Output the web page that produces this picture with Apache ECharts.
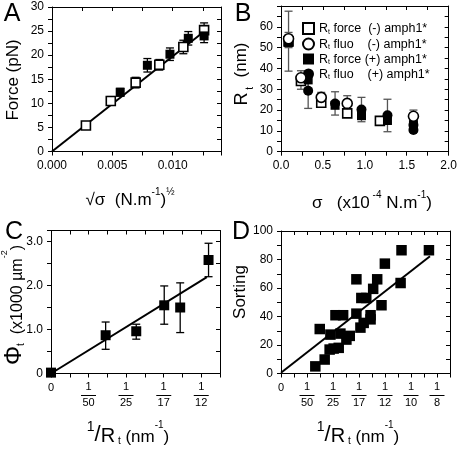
<!DOCTYPE html>
<html><head><meta charset="utf-8">
<script src="https://cdn.jsdelivr.net/npm/echarts@6/dist/echarts.min.js"></script>
<style>html,body{margin:0;padding:0;background:#fff}#c{width:460px;height:450px}</style>
</head><body><div id="c"></div>
<script>
// ---------- Panel A data ----------
const aOpenX = [0.00281, 0.00487, 0.00693, 0.00889, 0.01088, 0.0126];
const aOpenY = [5.4, 10.5, 14.3, 18.0, 21.7, 25.2];
const aOpenErr = [0.7, 0.9, 1.1, 1.1, 1.4, 1.5];
const aFillX = [0.00565, 0.0079, 0.00977, 0.01129, 0.0126];
const aFillY = [12.3, 17.9, 20.2, 23.5, 24.0];
const aFillErr = [0.8, 1.4, 1.3, 1.4, 1.4];
const aFitX = [0, 0.0126];
const aFitY = [0, 24.9];
// ---------- Panel B data ----------
const bForceNegX = [0.09, 0.238, 0.48, 0.79, 1.18];
const bForceNegY = [53, 34, 23.5, 18.4, 14.8];
const bFluoNegX = [0.09, 0.238, 0.48, 0.79, 1.58];
const bFluoNegY = [54.3, 35.5, 26.1, 23.2, 17.0];
const bForcePosX = [0.09, 0.324, 0.645, 0.96, 1.27, 1.58];
const bForcePosY = [52.5, 34.5, 22.3, 17.3, 15.0, 13.0];
const bFluoPosX = [0.324, 0.645, 0.96, 1.27, 1.58, 1.58];
const bFluoPosY = [29.3, 23.2, 20.3, 17.5, 12.8, 10.4];
const bErrX  = [0.09, 0.09, 0.238, 0.324, 0.324, 0.48, 0.645, 0.79, 0.96, 1.27, 1.58];
const bErrLo = [38.7, 50.0, 30.0, 30.5, 20.8, 21.6, 17.6, 20.5, 14.4, 9.6, 9.3];
const bErrHi = [67.5, 57.3, 38.9, 38.3, 36.0, 28.5, 28.8, 26.9, 26.1, 25.2, 20.0];
// ---------- Panel C data ----------
const cX = [0, 0.0291, 0.0454, 0.0603, 0.0688, 0.0839];
const cY = [0.02, 0.87, 0.96, 1.55, 1.50, 2.58];
const cLo = [null, 0.55, 0.78, 1.12, 0.93, 2.20];
const cHi = [null, 1.17, 1.12, 1.99, 2.06, 2.96];
const cFitX = [0, 0.083];
const cFitY = [0, 2.19];
const cTickVals = [0, 0.02, 0.04, 0.06, 0.08];
const cTickDen = ['0', '50', '25', '17', '12'];
// ---------- Panel D data ----------
const dX = [0.0264, 0.0298, 0.0336, 0.0374, 0.0380, 0.0405, 0.0419, 0.0444, 0.0457,
            0.0478, 0.0503, 0.0529, 0.0580, 0.0580, 0.0611, 0.0618, 0.0636, 0.0656,
            0.0689, 0.0689, 0.0709, 0.0740, 0.0773, 0.0799, 0.0920, 0.0927, 0.1138];
const dY = [5.0, 31.2, 9.8, 16.8, 27.3, 17.5, 40.9, 18.0, 28.0,
            40.9, 23.8, 26.4, 66.1, 42.0, 32.2, 53.0, 35.5, 53.0,
            38.0, 40.9, 59.4, 66.1, 47.9, 77.1, 63.5, 86.5, 86.5];
const dFitX = [0, 0.1146];
const dFitY = [0.5, 82.3];
const dTickVals = [0, 0.02, 0.04, 0.06, 0.08, 0.10, 0.12];
const dTickDen = ['0', '50', '25', '17', '12', '10', '8'];

const FONT = '"Liberation Sans", Arial, Helvetica, sans-serif';
const zip = (xs, ys) => xs.map((x, i) => [x, ys[i]]);
const isMul = (v, s) => Math.abs(v / s - Math.round(v / s)) < 1e-6;

function fracFormatter(vals, dens) {
  return function (v) {
    for (let i = 0; i < vals.length; i++) {
      if (Math.abs(v - vals[i]) < 1e-7) {
        if (dens[i] === '0') return '{z|0}';
        return '{n|1}\n{b|—}\n{d|' + dens[i] + '}';
      }
    }
    return '';
  };
}
const fracRich = {
  z: { fontSize: 11, lineHeight: 13, fontFamily: FONT, color: '#000' },
  n: { fontSize: 11, lineHeight: 11, fontFamily: FONT, color: '#000' },
  b: { fontSize: 15, lineHeight: 5, fontFamily: FONT, color: '#000', verticalAlign: 'middle' },
  d: { fontSize: 11, lineHeight: 11, fontFamily: FONT, color: '#000' }
};

function axisPair(kind, grid, min, max, interval, fmt, rich) {
  const common = {
    type: 'value', gridIndex: grid, min: min, max: max, interval: interval,
    splitLine: { show: false },
    axisLine: { show: true, onZero: false, lineStyle: { color: '#000', width: 1 } }
  };
  const main = Object.assign({}, common, {
    position: kind === 'x' ? 'bottom' : 'left',
    axisTick: { show: true, inside: false, length: 4, lineStyle: { color: '#000', width: 1 } },
    axisLabel: { show: true, color: '#000', fontSize: 12, fontFamily: FONT, margin: 8, formatter: fmt, rich: rich }
  });
  const mirror = Object.assign({}, common, {
    position: kind === 'x' ? 'top' : 'right',
    axisTick: { show: true, inside: true, length: 4, lineStyle: { color: '#000', width: 1 } },
    axisLabel: { show: false }
  });
  return [main, mirror];
}

const xAxes = [].concat(
  axisPair('x', 0, 0, 0.014, 0.0025, v => isMul(v, 0.005) ? v.toFixed(3) : ''),
  axisPair('x', 1, 0, 2, 0.25, v => isMul(v, 0.5) ? v.toFixed(1) : ''),
  axisPair('x', 2, 0, 0.09, 0.01, fracFormatter(cTickVals, cTickDen), fracRich),
  axisPair('x', 3, 0, 0.13, 0.01, fracFormatter(dTickVals, dTickDen), fracRich)
);
const yAxes = [].concat(
  axisPair('y', 0, 0, 30, 2.5, v => isMul(v, 5) ? String(Math.round(v)) : ''),
  axisPair('y', 1, 0, 70, 5, v => (isMul(v, 10) && v < 65) ? String(Math.round(v)) : ''),
  axisPair('y', 2, 0, 3.25, 0.5, v => (isMul(v, 1) && v < 3.2) ? (v === 0 ? '0' : v.toFixed(1)) : ''),
  axisPair('y', 3, 0, 100, 10, v => isMul(v, 20) ? String(Math.round(v)) : '')
);

function errSeries(ax, data, color, cap) {
  return {
    type: 'custom', xAxisIndex: ax, yAxisIndex: ax, z: 2, silent: true,
    data: data,
    encode: { x: 0, y: [1, 2] },
    renderItem: function (params, api) {
      const x = api.value(0), lo = api.value(1), hi = api.value(2);
      const p1 = api.coord([x, lo]), p2 = api.coord([x, hi]);
      const st = { stroke: color, lineWidth: 1.3 };
      return { type: 'group', children: [
        { type: 'line', shape: { x1: p1[0], y1: p1[1], x2: p2[0], y2: p2[1] }, style: st },
        { type: 'line', shape: { x1: p1[0] - cap, y1: p1[1], x2: p1[0] + cap, y2: p1[1] }, style: st },
        { type: 'line', shape: { x1: p2[0] - cap, y1: p2[1], x2: p2[0] + cap, y2: p2[1] }, style: st }
      ] };
    }
  };
}
function scatter(ax, name, data, symbol, size, open) {
  return {
    type: 'scatter', name: name, xAxisIndex: ax, yAxisIndex: ax, z: 5,
    symbol: symbol, symbolSize: size, data: data, silent: true,
    itemStyle: open ? { color: '#fff', borderColor: '#000', borderWidth: 1.6, opacity: 1 }
                    : { color: '#000', borderColor: '#000', borderWidth: 0, opacity: 1 }
  };
}
function fit(ax, xs, ys) {
  return { type: 'line', xAxisIndex: ax, yAxisIndex: ax, z: 3, data: zip(xs, ys), symbol: 'none',
           silent: true, lineStyle: { color: '#000', width: 2 } };
}

const aOpenErrData = aOpenX.map((x, i) => [x, aOpenY[i] - aOpenErr[i], aOpenY[i] + aOpenErr[i]]);
const aFillErrData = aFillX.map((x, i) => [x, aFillY[i] - aFillErr[i], aFillY[i] + aFillErr[i]]);
const bErrData = bErrX.map((x, i) => [x, bErrLo[i], bErrHi[i]]);
const cErrData = cX.map((x, i) => [x, cLo[i], cHi[i]]).filter(d => d[1] !== null);

const N_FN = 'Rt force (-) amph1*', N_LN = 'Rt fluo (-) amph1*', N_FP = 'Rt force (+) amph1*', N_LP = 'Rt fluo (+) amph1*';
const legendText = {};
legendText[N_FN] = '{r|R}{s|t}{r| force  (-) amph1*}';
legendText[N_LN] = '{r|R}{s|t}{r| fluo    (-) amph1*}';
legendText[N_FP] = '{r|R}{s|t}{r| force (+) amph1*}';
legendText[N_LP] = '{r|R}{s|t}{r| fluo    (+) amph1*}';

const series = [
  errSeries(0, aOpenErrData, '#000', 4),
  errSeries(0, aFillErrData, '#000', 4),
  fit(0, aFitX, aFitY),
  scatter(0, 'A open', zip(aOpenX, aOpenY), 'rect', 9, true),
  scatter(0, 'A fill', zip(aFillX, aFillY), 'rect', 9, false),
  errSeries(2, bErrData, '#555', 4),
  scatter(2, N_FN, zip(bForceNegX, bForceNegY), 'rect', 9, true),
  scatter(2, N_FP, zip(bForcePosX, bForcePosY), 'rect', 9, false),
  scatter(2, N_LP, zip(bFluoPosX, bFluoPosY), 'circle', 10, false),
  scatter(2, N_LN, zip(bFluoNegX, bFluoNegY), 'circle', 10, true),
  errSeries(4, cErrData, '#000', 4),
  fit(4, cFitX, cFitY),
  scatter(4, 'C', zip(cX, cY), 'rect', 10, false),
  fit(6, dFitX, dFitY),
  scatter(6, 'D', zip(dX, dY), 'rect', 10.5, false)
];

function txt(x, y, text, size, opts) {
  return Object.assign({
    type: 'text', x: x, y: y, silent: true,
    style: Object.assign({ text: text, fill: '#000', font: size + 'px ' + FONT,
                           textAlign: 'center', textVerticalAlign: 'middle' }, (opts && opts.style) || {})
  }, (opts && opts.el) || {});
}
const R90 = Math.PI / 2;
const fracTitleRich = {
  u: { fontSize: 14, fontFamily: FONT, lineHeight: 26, verticalAlign: 'top' },
  l: { fontSize: 22, fontFamily: FONT, lineHeight: 26, verticalAlign: 'bottom' },
  r: { fontSize: 20, fontFamily: FONT, lineHeight: 26, verticalAlign: 'bottom' },
  s: { fontSize: 10, fontFamily: FONT, lineHeight: 26, verticalAlign: 'bottom' },
  b: { fontSize: 17, fontFamily: FONT, lineHeight: 26, verticalAlign: 'bottom' },
  c: { fontSize: 10, fontFamily: FONT, lineHeight: 26, verticalAlign: 'top' }
};
const supRich = {
  b: { fontSize: 17, fontFamily: FONT, lineHeight: 22, verticalAlign: 'bottom' },
  c: { fontSize: 10, fontFamily: FONT, lineHeight: 22, verticalAlign: 'top' }
};
const graphics = [
  txt(12, 14, 'A', 25),
  txt(243, 14, 'B', 25),
  txt(14, 232, 'C', 25),
  txt(241, 232, 'D', 25),
  txt(13, 80, 'Force (pN)', 17, { el: { rotation: R90 } }),
  txt(130, 198, '{b|√σ  (N.m}{c|-1}{b|)}{c|½}', 17, { style: { rich: supRich } }),
  txt(244, 74, '{r|R}{s| t}{b|  (nm)}', 17, { el: { rotation: R90 }, style: { rich: {
    r: { fontSize: 18, fontFamily: FONT, lineHeight: 22, verticalAlign: 'top' },
    s: { fontSize: 10, fontFamily: FONT, lineHeight: 22, verticalAlign: 'bottom' },
    b: { fontSize: 17, fontFamily: FONT, lineHeight: 22, verticalAlign: 'top' } } } }),
  txt(372, 201, '{b|σ   (x10}{c| -4}{b| N.m}{c|-1}{b|)}', 17, { style: { rich: supRich } }),
  txt(13, 305, '{p|Φ}{s|t}{b|  (x1000 µm}{c|-2}{b|)}', 17, { el: { rotation: R90 }, style: { rich: {
    p: { fontSize: 24, fontFamily: FONT, lineHeight: 26, verticalAlign: 'bottom' },
    s: { fontSize: 10, fontFamily: FONT, lineHeight: 26, verticalAlign: 'bottom' },
    b: { fontSize: 16, fontFamily: FONT, lineHeight: 26, verticalAlign: 'bottom' },
    c: { fontSize: 9, fontFamily: FONT, lineHeight: 26, verticalAlign: 'top' } } } }),
  txt(128, 433, '{u|1}{l|/}{r|R}{s| t}{b| (nm}{c|-1}{b|)}', 17, { style: { rich: fracTitleRich } }),
  txt(240, 292, 'Sorting', 17, { el: { rotation: R90 } }),
  txt(358, 433, '{u|1}{l|/}{r|R}{s| t}{b| (nm}{c|-1}{b|)}', 17, { style: { rich: fracTitleRich } })
];

const chart = echarts.init(document.getElementById('c'), null, { renderer: 'canvas' });
chart.setOption({
  animation: false,
  backgroundColor: '#fff',
  grid: [
    { left: 52, top: 7, width: 169, height: 144.5 },
    { left: 281, top: 6, width: 170, height: 145.7 },
    { left: 51, top: 230.5, width: 169, height: 143 },
    { left: 281, top: 231, width: 169, height: 142.5 }
  ],
  xAxis: xAxes,
  yAxis: yAxes,
  legend: {
    data: [N_FN, N_LN, N_FP, N_LP],
    left: 297, top: 17, orient: 'vertical', itemWidth: 11, itemHeight: 11, itemGap: 2,
    selectedMode: false,
    formatter: n => legendText[n],
    textStyle: { color: '#000', fontFamily: FONT, rich: {
      r: { fontSize: 12.5, fontFamily: FONT, lineHeight: 14, verticalAlign: 'bottom' },
      s: { fontSize: 7, fontFamily: FONT, lineHeight: 14, verticalAlign: 'bottom' } } }
  },
  graphic: graphics,
  series: series
});
</script></body></html>
